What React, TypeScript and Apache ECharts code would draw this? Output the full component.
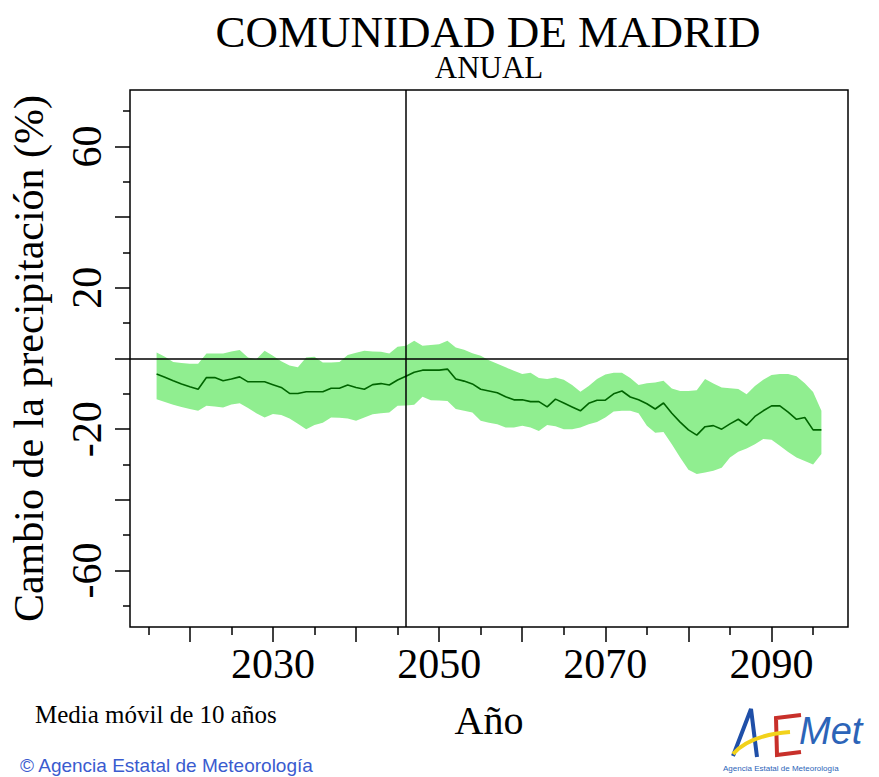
import React, { useEffect, useRef } from "react";
import * as echarts from "echarts";

const years = [
  2016, 2017, 2018, 2019, 2020, 2021, 2022, 2023, 2024, 2025,
  2026, 2027, 2028, 2029, 2030, 2031, 2032, 2033, 2034, 2035,
  2036, 2037, 2038, 2039, 2040, 2041, 2042, 2043, 2044, 2045,
  2046, 2047, 2048, 2049, 2050, 2051, 2052, 2053, 2054, 2055,
  2056, 2057, 2058, 2059, 2060, 2061, 2062, 2063, 2064, 2065,
  2066, 2067, 2068, 2069, 2070, 2071, 2072, 2073, 2074, 2075,
  2076, 2077, 2078, 2079, 2080, 2081, 2082, 2083, 2084, 2085,
  2086, 2087, 2088, 2089, 2090, 2091, 2092, 2093, 2094, 2095,
  2096,
];

const meanValues = [
  -4.4, -5.3, -6.3, -7.2, -8.0, -8.7, -5.4, -5.4, -6.3, -5.8,
  -5.2, -6.6, -6.6, -6.6, -7.4, -8.2, -9.9, -9.9, -9.4, -9.4,
  -9.4, -8.4, -8.4, -7.5, -8.2, -8.7, -7.4, -7.1, -7.5, -6.1,
  -5.0, -3.9, -3.3, -3.3, -3.3, -3.0, -5.8, -6.4, -7.2, -8.7,
  -9.2, -9.7, -10.8, -11.7, -11.7, -12.2, -12.2, -13.7, -11.5, -12.6,
  -13.7, -14.8, -12.7, -11.8, -11.8, -10.0, -9.2, -10.9, -11.7, -12.8,
  -14.3, -12.6, -15.5, -18.0, -20.2, -21.7, -19.3, -19.0, -20.0, -18.5,
  -17.2, -18.9, -16.4, -14.8, -13.4, -13.4, -15.2, -17.2, -16.7, -20.2,
  -20.2,
];

const upperValues = [
  1.7, 0.5, -1.0, -1.3, -1.5, -1.5, 1.4, 1.4, 1.4, 2.0,
  2.4, 0.3, -0.2, 2.2, 0.8, -0.8, -2.0, -2.5, 0.3, 0.5,
  -1.1, -1.1, -1.0, 1.0, 1.6, 2.2, 2.0, 1.9, 1.4, 3.3,
  3.6, 5.0, 3.6, 3.8, 4.0, 5.0, 3.1, 2.5, 1.5, 0.8,
  -0.5, -1.5, -2.5, -3.5, -4.4, -4.0, -5.5, -5.8, -5.4, -6.0,
  -7.5, -9.4, -7.8, -5.8, -4.5, -4.0, -4.0, -5.5, -7.5, -7.0,
  -6.8, -6.3, -8.5, -9.2, -9.2, -9.0, -5.8, -7.1, -8.2, -8.4,
  -8.6, -10.1, -7.8, -6.0, -4.7, -4.4, -4.4, -5.0, -7.0, -9.5,
  -14.8,
];

const lowerValues = [
  -11.5, -12.3, -13.1, -13.7, -14.3, -14.8, -13.4, -13.6, -13.9, -13.0,
  -12.7, -14.0, -15.5, -16.7, -15.7, -16.0, -17.0, -18.5, -20.0, -18.8,
  -18.2, -16.7, -16.8, -17.0, -17.6, -16.7, -15.8, -15.5, -15.3, -13.4,
  -13.3, -13.1, -10.8, -11.8, -11.9, -12.0, -14.3, -14.8, -15.3, -17.6,
  -18.2, -18.6, -19.5, -19.5, -19.0, -19.5, -20.5, -18.8, -19.2, -20.0,
  -20.0, -19.5, -18.6, -18.0, -16.7, -15.0, -14.8, -14.8, -15.5, -19.0,
  -21.0, -20.8, -24.3, -28.0, -31.5, -32.7, -32.3, -31.8, -30.9, -28.0,
  -26.4, -25.5, -24.3, -22.8, -23.0, -24.7, -26.5, -28.0, -29.0, -30.0,
  -27.0,
];

const xMajorTicks = [2020, 2030, 2040, 2050, 2060, 2070, 2080, 2090];
const xMinorTicks = [2015, 2025, 2035, 2045, 2055, 2065, 2075, 2085, 2095];
const xLabels = [2030, 2050, 2070, 2090];
const yMajorTicks = [-60, -40, -20, 0, 20, 40, 60];
const yMinorTicks = [-70, -50, -30, -10, 10, 30, 50, 70];
const yLabels = [-60, -20, 20, 60];
const referenceYear = 2046;

const SERIF = "'Liberation Serif', 'Times New Roman', serif";
const SANS = "'Liberation Sans', Arial, sans-serif";

export default function App() {
  const ref = useRef<HTMLDivElement>(null);

  useEffect(() => {
    if (!ref.current) return;
    const chart = echarts.init(ref.current, null, { renderer: "svg" });

    const bandData = years.map((y, i) => [y, lowerValues[i], upperValues[i]]);
    const meanData = years.map((y, i) => [y, meanValues[i]]);

    const xBase = {
      type: "value",
      min: 2012.8,
      max: 2099.2,
      position: "bottom",
      splitLine: { show: false },
      axisLine: { show: false, onZero: false },
    };
    const yBase = {
      type: "value",
      min: -76,
      max: 76,
      position: "left",
      splitLine: { show: false },
      axisLine: { show: false, onZero: false },
    };

    const option: any = {
      animation: false,
      backgroundColor: "#ffffff",
      title: [
        {
          text: "COMUNIDAD DE MADRID",
          left: 488,
          top: 12,
          textAlign: "center",
          padding: 0,
          textStyle: {
            fontFamily: SERIF,
            fontSize: 45,
            lineHeight: 40,
            fontWeight: "normal",
            color: "#000",
          },
        },
        {
          text: "ANUAL",
          left: 489,
          top: 54,
          textAlign: "center",
          padding: 0,
          textStyle: {
            fontFamily: SERIF,
            fontSize: 31,
            lineHeight: 26,
            fontWeight: "normal",
            color: "#000",
          },
        },
      ],
      grid: {
        left: 130,
        top: 90,
        width: 718,
        height: 537,
        show: true,
        borderColor: "#000",
        borderWidth: 1.5,
        backgroundColor: "transparent",
      },
      xAxis: [
        {
          ...xBase,
          name: "Año",
          nameLocation: "middle",
          nameGap: 73,
          nameTextStyle: { fontFamily: SERIF, fontSize: 40, color: "#000" },
          axisTick: {
            show: true,
            length: 15,
            customValues: xMajorTicks,
            lineStyle: { color: "#000", width: 1.5 },
          },
          axisLabel: {
            show: true,
            customValues: xLabels,
            margin: 16,
            fontFamily: SERIF,
            fontSize: 42,
            color: "#000",
            formatter: (v: number) => String(Math.round(v)),
          },
        },
        {
          ...xBase,
          axisTick: {
            show: true,
            length: 8,
            customValues: xMinorTicks,
            lineStyle: { color: "#000", width: 1.5 },
          },
          axisLabel: { show: false },
        },
      ],
      yAxis: [
        {
          ...yBase,
          name: "Cambio de la precipitación (%)",
          nameLocation: "middle",
          nameRotate: 90,
          nameGap: 80,
          nameTextStyle: { fontFamily: SERIF, fontSize: 42, color: "#000" },
          axisTick: {
            show: true,
            length: 15,
            customValues: yMajorTicks,
            lineStyle: { color: "#000", width: 1.5 },
          },
          axisLabel: {
            show: true,
            customValues: yLabels,
            rotate: 90,
            margin: 22,
            fontFamily: SERIF,
            fontSize: 42,
            color: "#000",
            formatter: (v: number) => String(Math.round(v)),
          },
        },
        {
          ...yBase,
          axisTick: {
            show: true,
            length: 7,
            customValues: yMinorTicks,
            lineStyle: { color: "#000", width: 1.5 },
          },
          axisLabel: { show: false },
        },
      ],
      series: [
        {
          type: "custom",
          name: "band",
          data: bandData,
          encode: { x: 0, y: [1, 2] },
          silent: true,
          z: 1,
          renderItem: (params: any, api: any) => {
            if (params.dataIndex !== 0) return null;
            const pts: number[][] = [];
            for (let i = 0; i < years.length; i++) {
              pts.push(api.coord([years[i], upperValues[i]]));
            }
            for (let i = years.length - 1; i >= 0; i--) {
              pts.push(api.coord([years[i], lowerValues[i]]));
            }
            return {
              type: "polygon",
              shape: { points: pts },
              style: { fill: "#90ee90", stroke: "none" },
            };
          },
        },
        {
          type: "line",
          name: "mean",
          data: meanData,
          symbol: "none",
          lineStyle: { color: "#006400", width: 1.6 },
          silent: true,
          z: 3,
          markLine: {
            silent: true,
            symbol: "none",
            label: { show: false },
            lineStyle: { color: "#000", width: 1.5, type: "solid" },
            data: [{ yAxis: 0 }, { xAxis: referenceYear }],
            z: 4,
          },
        },
      ],
      graphic: [
        {
          type: "text",
          left: 35,
          top: 702,
          style: {
            text: "Media móvil de 10 años",
            fontFamily: SERIF,
            fontSize: 25,
            fill: "#000",
          },
        },
        {
          type: "text",
          left: 20,
          top: 756,
          style: {
            text: "© Agencia Estatal de Meteorología",
            fontFamily: SANS,
            fontSize: 19,
            fill: "#3a5bcf",
          },
        },
        // AEMET logo
        {
          type: "polyline",
          shape: { points: [[733, 756], [751, 709], [757, 757]] },
          style: { stroke: "#1f4fa8", lineWidth: 4, fill: null },
        },
        {
          type: "polyline",
          shape: { points: [[801, 715], [776, 718], [777, 755], [801, 752]] },
          style: { stroke: "#c8302a", lineWidth: 4, fill: null },
        },
        {
          type: "bezierCurve",
          shape: { x1: 733, y1: 754, cpx1: 750, cpy1: 735, x2: 790, y2: 732 },
          style: { stroke: "#f2d21b", lineWidth: 4, fill: null },
        },
        {
          type: "text",
          left: 799,
          top: 712,
          style: {
            text: "Met",
            fontFamily: SANS,
            fontStyle: "italic",
            fontSize: 38,
            fill: "#2c64b8",
          },
        },
        {
          type: "text",
          left: 723,
          top: 764,
          style: {
            text: "Agencia Estatal de Meteorología",
            fontFamily: SANS,
            fontSize: 8,
            fill: "#2c64b8",
          },
        },
      ],
    };

    chart.setOption(option);
    return () => chart.dispose();
  }, []);

  return (
    <div
      ref={ref}
      style={{ position: "absolute", left: 0, top: 0, width: 879, height: 777 }}
    />
  );
}
